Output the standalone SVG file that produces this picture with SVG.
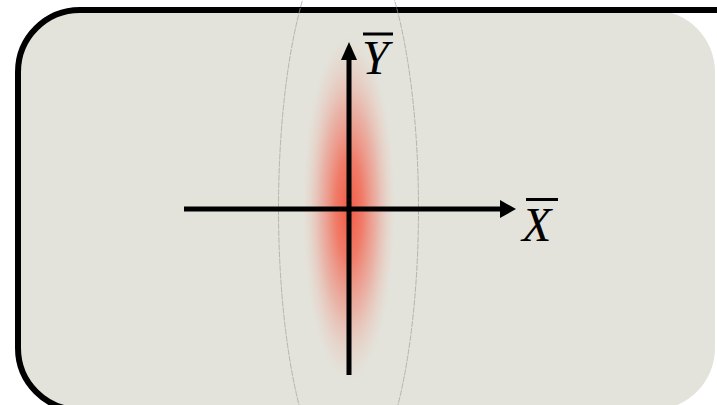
<svg xmlns="http://www.w3.org/2000/svg" width="717" height="405" viewBox="0 0 717 405">
<defs>
<radialGradient id="g" cx="0.5" cy="0.5" r="0.5">
<stop offset="0" stop-color="#f25a44" stop-opacity="1"/>
<stop offset="0.3" stop-color="#f26a55" stop-opacity="0.85"/>
<stop offset="0.6" stop-color="#f08070" stop-opacity="0.5"/>
<stop offset="0.85" stop-color="#f0a090" stop-opacity="0.18"/>
<stop offset="1" stop-color="#f0b0a0" stop-opacity="0"/>
</radialGradient>
<style>
.axis{stroke:#000;stroke-width:5;fill:none}
.head{fill:#000}
.lbl{font-family:"Liberation Serif","Times New Roman",serif;font-style:italic;font-size:48px;fill:#000}
.bar{stroke:#000;stroke-width:3}
</style>
</defs>
<g id="frame">
<rect x="18" y="10" width="697" height="400" rx="62" ry="62" fill="#e3e3db"/>
<path d="M80,410 A62,62 0 0 1 18,348 L18,72 A62,62 0 0 1 80,10 L717,10" fill="none" stroke="#000" stroke-width="6"/>
</g>
<g id="beam">
<ellipse cx="349" cy="209" rx="46" ry="172" fill="url(#g)"/>
<ellipse cx="348.5" cy="209" rx="70" ry="277" fill="none" stroke="#a0a0a0" stroke-width="0.7" stroke-dasharray="6 1"/>
</g>
<g id="connectors">
<line class="axis" x1="184" y1="209" x2="502" y2="209"/>
<polygon class="head" points="500,200 516,209 500,218"/>
<line class="axis" x1="349" y1="375" x2="349" y2="58"/>
<polygon class="head" points="341,60 349,42 357,60"/>
</g>
<g id="label-y">
<text class="lbl" x="362" y="74">Y</text>
<line class="bar" x1="363" y1="34" x2="393" y2="34"/>
</g>
<g id="label-x">
<text class="lbl" x="522" y="241">X</text>
<line class="bar" x1="526" y1="199.5" x2="558" y2="199.5"/>
</g>
</svg>
